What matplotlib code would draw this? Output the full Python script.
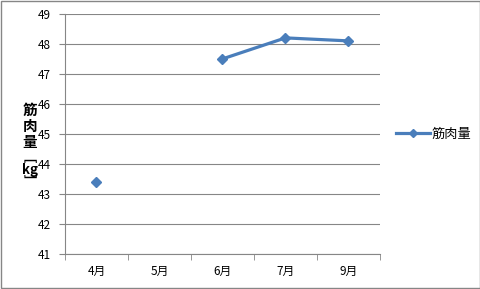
import matplotlib
matplotlib.use("Agg")
import matplotlib.pyplot as plt
import numpy as np

plt.rcParams['font.family'] = ['Noto Sans CJK JP', 'DejaVu Sans']

months = ['4月', '5月', '6月', '7月', '9月']
muscle = [43.4, np.nan, 47.5, 48.2, 48.1]
yticks = list(range(41, 50))

blue = '#4A7EBB'
grid = '#868686'

fig = plt.figure(figsize=(4.81, 2.89), dpi=100)
ax = fig.add_axes([0.135, 0.121, 0.655, 0.831])

x = np.arange(len(months))
ax.plot(x, muscle, color=blue, lw=2.3, marker='D', ms=5, label='筋肉量')

ax.set_xlim(-0.5, len(months) - 0.5)
ax.set_ylim(41, 49)
ax.set_yticks(yticks)
ax.set_xticks(x)
ax.set_xticklabels(months, fontsize=8.5)
ax.tick_params(axis='x', length=0, pad=8)
ax.set_xticks(np.arange(-0.5, len(months)), minor=True)
ax.tick_params(axis='x', which='minor', length=4, color=grid, direction='out')
ax.tick_params(axis='y', labelsize=8.5, length=4, color=grid, direction='out', pad=6)
ax.yaxis.grid(True, color=grid, lw=0.8)
ax.set_axisbelow(True)

for s in ['top', 'right']:
    ax.spines[s].set_visible(False)
for s in ['left', 'bottom']:
    ax.spines[s].set_color(grid)
    ax.spines[s].set_linewidth(0.8)

# vertical axis title, stacked like Excel's vertical text
fig.text(0.062, 0.565, '筋\n肉\n量', fontsize=10.5, fontweight='bold',
         ha='center', va='center', linespacing=1.0)
fig.text(0.062, 0.478, '﹇\nkg\n﹈', fontsize=9.5, fontweight='bold',
         ha='center', va='top', linespacing=0.8)

leg = ax.legend(loc='center left', bbox_to_anchor=(1.0, 0.5), frameon=False,
                fontsize=9.5, handlelength=2.6, handletextpad=0.1, borderaxespad=0.8,
                markerscale=0.8)

fig.patches.append(plt.Rectangle((0.002, 0.003), 0.996, 0.994, transform=fig.transFigure,
                                 fill=False, edgecolor=grid, lw=1))

fig.savefig('out.png', dpi=100)
